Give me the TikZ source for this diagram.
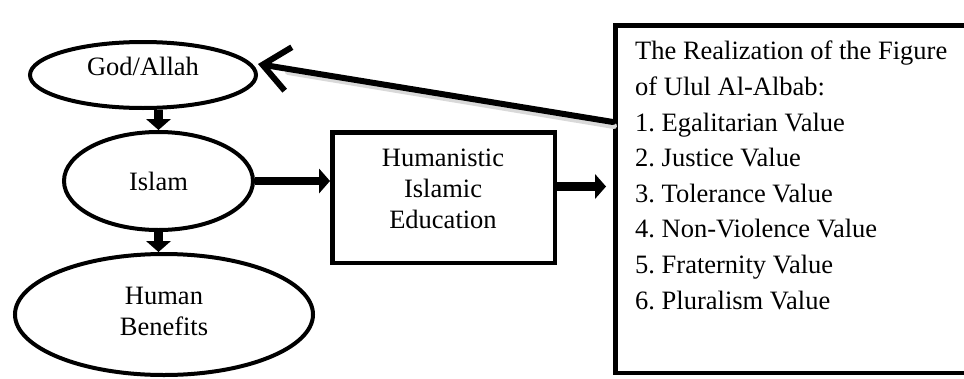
\documentclass[tikz,border=0pt]{standalone}
\usepackage{fontspec}
\setmainfont{Liberation Serif}
\usetikzlibrary{shapes.geometric,arrows.meta}
\begin{document}
\frenchspacing
\begin{tikzpicture}[x=1pt,y=-1pt,
  ell/.style={draw, line width=4pt, ellipse, inner sep=0pt, fill=white},
  boxx/.style={draw, line width=4.5pt, rectangle, inner sep=0pt, fill=white},
  txt/.style={font=\fontsize{26.5pt}{31pt}\selectfont, inner sep=0pt},
  fat/.style={line width=8.5pt, -{Triangle[length=11pt,width=25pt,line width=0pt]}},
  barb/.style={line width=6pt, line cap=round, -{Straight Barb[length=26pt,width=44pt]}},
  shade/.style={line width=6pt, line cap=round, black!15},
]
\useasboundingbox (0,0) rectangle (964,378);
\begin{scope}
\clip (0,0) rectangle (964,378);
% nodes
\node[ell, minimum width=226pt, minimum height=66pt] (god) at (143,75) {};
\node[txt, anchor=base] (godt) at (143,75) {God/Allah};
\node[ell, minimum width=189pt, minimum height=98pt] (islam) at (158.5,181) {};
\node[txt, anchor=base] (islamt) at (158.5,190) {Islam};
\node[ell, minimum width=298pt, minimum height=121pt] (human) at (164,314.5) {};
\node[txt, align=center, anchor=north] (humant) at (164,287) {Human\\Benefits};
\node[boxx, minimum width=222.5pt, minimum height=130.5pt] (hie) at (443.5,197.5) {};
\node[txt, align=center, anchor=north] (hiet) at (443,149) {Humanistic\\Islamic\\Education};
\node[boxx, minimum width=357.5pt, minimum height=347.5pt] (real) at (794,199) {};
\node[txt, align=left, anchor=north west, font=\fontsize{26.5pt}{35.6pt}\selectfont] (realt) at (635,41)
  {The Realization of the Figure\\of Ulul Al-Albab:\\1. Egalitarian Value\\2. Justice Value\\3. Tolerance Value\\4. Non-Violence Value\\5. Fraternity Value\\6. Pluralism Value};
% connectors
\coordinate (gtip) at ([yshift=11pt]god.east);
\coordinate (rstart) at ([yshift=77pt]real.west);
\draw[shade] ([shift={(1pt,-4pt)}]rstart) -- ([shift={(30pt,-8pt)}]gtip);
\draw[barb] (rstart) -- (gtip);
\draw[fat] (islam.north |- god.south) -- (islam.north);
\draw[fat] (islam.south) -- (islam.south |- human.north);
\draw[fat] (islam.east) -- (islam.east -| hie.west);
\coordinate (hout) at ([yshift=11pt]hie.east);
\coordinate (rin) at ([xshift=-7pt]hout -| real.west);
\draw[fat] (hout) -- (rin);
\end{scope}
\end{tikzpicture}
\end{document}
